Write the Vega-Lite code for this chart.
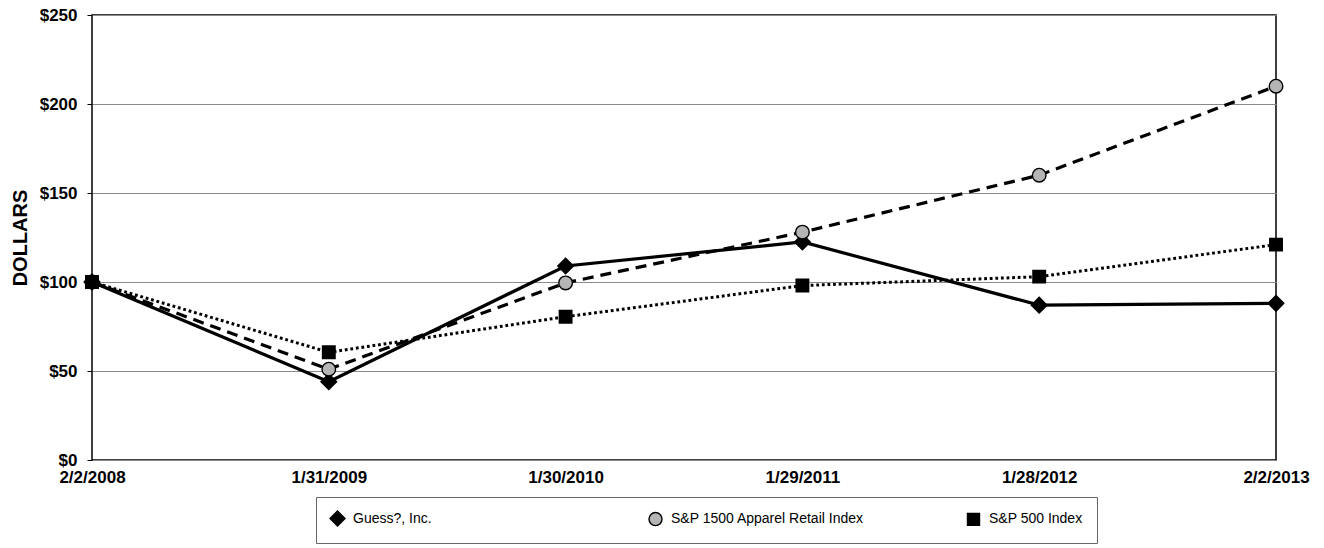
{
  "$schema": "https://vega.github.io/schema/vega-lite/v6.json",
  "width": 1184,
  "height": 445,
  "autosize": "none",
  "padding": {"left": 92, "top": 15, "right": 48, "bottom": 88},
  "background": "white",
  "config": {
    "view": {"stroke": "black", "strokeWidth": 1.5},
    "font": "Liberation Sans",
    "legend": {
      "orient": "none",
      "legendX": 224,
      "legendY": 482,
      "direction": "horizontal",
      "columns": 3,
      "gridAlign": "all",
      "columnPadding": 99,
      "padding": 14,
      "strokeColor": "#666666",
      "fillColor": "white",
      "labelFont": "Liberation Sans",
      "labelFontSize": 14,
      "labelColor": "black",
      "labelOffset": 8,
      "labelLimit": 400,
      "symbolSize": 170,
      "symbolStrokeWidth": 1.4,
      "symbolStrokeColor": "black"
    }
  },
  "data": {
    "values": [
      {"date": "2/2/2008", "series": "Guess?, Inc.", "value": 100},
      {"date": "1/31/2009", "series": "Guess?, Inc.", "value": 44},
      {"date": "1/30/2010", "series": "Guess?, Inc.", "value": 109},
      {"date": "1/29/2011", "series": "Guess?, Inc.", "value": 122.5},
      {"date": "1/28/2012", "series": "Guess?, Inc.", "value": 87},
      {"date": "2/2/2013", "series": "Guess?, Inc.", "value": 88},
      {"date": "2/2/2008", "series": "S&P 1500 Apparel Retail Index", "value": 100},
      {"date": "1/31/2009", "series": "S&P 1500 Apparel Retail Index", "value": 51},
      {"date": "1/30/2010", "series": "S&P 1500 Apparel Retail Index", "value": 99.5},
      {"date": "1/29/2011", "series": "S&P 1500 Apparel Retail Index", "value": 128},
      {"date": "1/28/2012", "series": "S&P 1500 Apparel Retail Index", "value": 160},
      {"date": "2/2/2013", "series": "S&P 1500 Apparel Retail Index", "value": 210},
      {"date": "2/2/2008", "series": "S&P 500 Index", "value": 100},
      {"date": "1/31/2009", "series": "S&P 500 Index", "value": 60.5},
      {"date": "1/30/2010", "series": "S&P 500 Index", "value": 80.5},
      {"date": "1/29/2011", "series": "S&P 500 Index", "value": 98},
      {"date": "1/28/2012", "series": "S&P 500 Index", "value": 103},
      {"date": "2/2/2013", "series": "S&P 500 Index", "value": 121}
    ]
  },
  "encoding": {
    "x": {
      "field": "date",
      "type": "ordinal",
      "sort": ["2/2/2008", "1/31/2009", "1/30/2010", "1/29/2011", "1/28/2012", "2/2/2013"],
      "scale": {"type": "point", "padding": 0},
      "axis": {
        "title": null,
        "labelAngle": 0,
        "labelFont": "Liberation Sans",
        "labelFontSize": 17,
        "labelFontWeight": "bold",
        "labelColor": "black",
        "labelPadding": 9,
        "ticks": false,
        "domain": false,
        "grid": false
      }
    },
    "y": {
      "field": "value",
      "type": "quantitative",
      "scale": {"domain": [0, 250], "nice": false},
      "axis": {
        "title": "DOLLARS",
        "titleFont": "Liberation Sans",
        "titleFontSize": 20,
        "titleFontWeight": "bold",
        "titleColor": "black",
        "titlePadding": 9,
        "values": [0, 50, 100, 150, 200, 250],
        "labelExpr": "'$' + datum.value",
        "labelFont": "Liberation Sans",
        "labelFontSize": 17,
        "labelFontWeight": "bold",
        "labelColor": "black",
        "labelPadding": 10,
        "tickSize": 5,
        "tickColor": "black",
        "domain": false,
        "grid": true,
        "gridColor": "#8a8a8a",
        "gridWidth": 1.2,
        "gridOpacity": 1
      }
    }
  },
  "layer": [
    {
      "transform": [{"filter": "datum.series === 'S&P 500 Index'"}],
      "mark": {"type": "line", "color": "black", "strokeWidth": 3, "strokeDash": [2.8, 2.8]},
      "encoding": {}
    },
    {
      "transform": [{"filter": "datum.series === 'S&P 1500 Apparel Retail Index'"}],
      "mark": {"type": "line", "color": "black", "strokeWidth": 3.2, "strokeDash": [11, 7]},
      "encoding": {}
    },
    {
      "transform": [{"filter": "datum.series === 'Guess?, Inc.'"}],
      "mark": {"type": "line", "color": "black", "strokeWidth": 3.2},
      "encoding": {}
    },
    {
      "mark": {"type": "point", "filled": true, "stroke": "black", "strokeWidth": 1.4, "opacity": 1, "size": 185},
      "encoding": {
        "shape": {
          "field": "series",
          "type": "nominal",
          "scale": {
            "domain": ["Guess?, Inc.", "S&P 1500 Apparel Retail Index", "S&P 500 Index"],
            "range": ["M0,-1.15L1.15,0L0,1.15L-1.15,0Z", "circle", "M-0.92,-0.92L0.92,-0.92L0.92,0.92L-0.92,0.92Z"]
          },
          "legend": {"title": null}
        },
        "color": {
          "field": "series",
          "type": "nominal",
          "scale": {
            "domain": ["Guess?, Inc.", "S&P 1500 Apparel Retail Index", "S&P 500 Index"],
            "range": ["black", "#b5b5b5", "black"]
          },
          "legend": {"title": null}
        }
      }
    }
  ]
}
